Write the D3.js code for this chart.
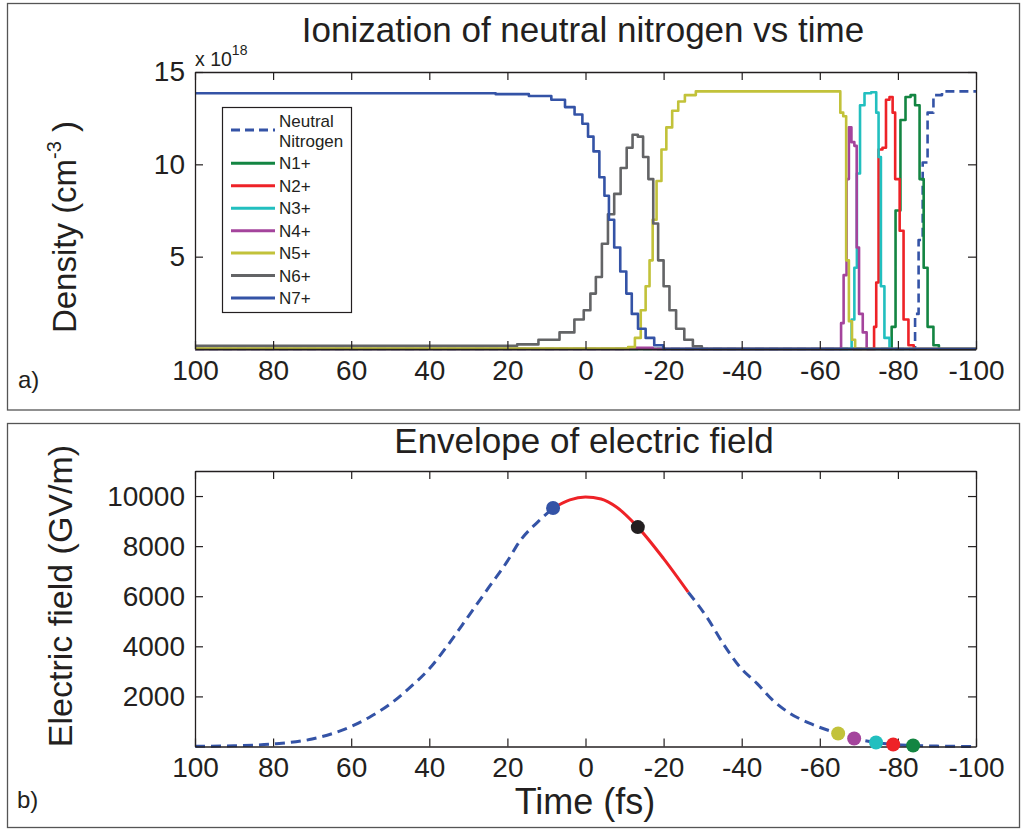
<!DOCTYPE html>
<html><head><meta charset="utf-8">
<script src="https://cdn.jsdelivr.net/npm/d3@7"></script>
<style>
body{margin:0;background:#fff}
svg{display:block}
text{font-family:"Liberation Sans",Arial,Helvetica,sans-serif;fill:#231f20}
</style>
</head><body>
<svg id="c" width="1028" height="830"></svg>
<script>
// ---------------- DATA ----------------
const xTicks = [100, 80, 60, 40, 20, 0, -20, -40, -60, -80, -100];
const densTicks = [5, 10, 15];
const fieldTicks = [2000, 4000, 6000, 8000, 10000];

const seriesNames = ["Neutral Nitrogen", "N1+", "N2+", "N3+", "N4+", "N5+", "N6+", "N7+"];

// density values (x 10^18 cm^-3) as [time fs, density]
const neutral = [[100,0],[-83.9,0],[-84.9,1.9],[-85.7,5.9],[-87,10.1],[-88.2,12.8],[-90,13.75],[-92.6,13.95],[-100,13.95]];
const n1 = [[100,0],[-78,0],[-78.8,1.2],[-80,7.5],[-81.3,12.4],[-82.6,13.65],[-83.9,13.75],[-84.9,13.2],[-86.2,9.2],[-87,4.4],[-88.2,1.2],[-90,0.2],[-91,0],[-100,0]];
const n2 = [[100,0],[-73.6,0],[-74.2,1.2],[-74.7,3.6],[-75.4,10.8],[-76.7,10.9],[-77.2,13.5],[-78.5,13.65],[-78.8,12.8],[-79.8,9.2],[-81.1,6.4],[-81.8,1.6],[-83.6,0.2],[-84.5,0],[-100,0]];
const n3 = [[100,0],[-67.8,0],[-68.5,1.6],[-69.2,4.4],[-69.8,9.5],[-70.8,13.2],[-72.1,13.85],[-74.2,13.9],[-74.7,12.8],[-75.4,10.4],[-75.9,3.4],[-77.2,0.6],[-78.5,0],[-100,0]];
const n4 = [[100,0],[-11,0],[-11.5,0.06],[-17,0.06],[-17.5,0],[-65.2,0],[-65.7,1.4],[-66.5,4],[-67.2,9.2],[-67.7,12.0],[-68.5,11.2],[-69.2,11.0],[-69.7,5.5],[-70.4,1.9],[-71.6,0.9],[-72.4,0],[-100,0]];
const n5 = [[100,0.03],[-10,0.03],[-11.8,0.1],[-13.5,0.6],[-14.8,2.1],[-16,3.4],[-16.8,4.8],[-17.6,7.0],[-18.8,9.1],[-20.1,10.8],[-21.3,12.0],[-23.1,12.9],[-24.4,13.4],[-26.5,13.75],[-30,13.95],[-65.0,13.95],[-65.5,12.8],[-66.5,12.6],[-67.0,4.8],[-67.9,1.5],[-68.6,0.5],[-69.5,0],[-100,0]];
const n6 = [[100,0.18],[20,0.18],[15,0.25],[9.1,0.5],[4.2,0.9],[1.5,1.6],[-0.6,2.1],[-1.9,3.0],[-3.4,3.9],[-5,5.7],[-6.5,7.3],[-8.2,8.4],[-9.8,9.8],[-11.3,10.9],[-12.8,11.6],[-14,11.5],[-15.5,10.4],[-16.7,9.2],[-18,6.8],[-19.2,4.8],[-20.8,3.4],[-22.2,2.1],[-24.2,1.1],[-26.4,0.5],[-28.6,0.15],[-31,0],[-100,0]];
const n7 = [[100,13.85],[28,13.85],[18,13.8],[11,13.7],[6.5,13.5],[4.0,13.1],[1.6,12.7],[0.0,12.2],[-1.3,11.5],[-2.8,10.7],[-4.3,9.3],[-5.4,8.3],[-6.6,7.0],[-8.1,5.5],[-9.7,4.2],[-11.2,3.0],[-12.5,1.9],[-14.4,1.1],[-16.4,0.6],[-18.8,0.2],[-21,0],[-100,0]];

// electric field envelope (GV/m)
const fieldTime  = [100, 90, 80, 70, 60, 55, 50, 45, 40, 35, 30, 25, 20, 16.8, 12, 8.3, 4, 0, -4, -8, -13.4, -20, -26.3, -31.1, -35.2, -39.6, -43.9, -48, -52.4, -57.5, -64.7, -68.8, -74.4, -78.8, -83.9, -90, -100];
const fieldValue = [10, 30, 100, 300, 800, 1200, 1700, 2350, 3100, 4100, 5200, 6300, 7400, 8200, 9000, 9520, 9850, 9960, 9880, 9550, 8760, 7500, 6160, 5160, 4120, 3160, 2520, 1840, 1320, 920, 520, 320, 160, 80, 40, 15, 0];
const solidStart = 8.3, solidEnd = -26.3;

// ionization threshold markers
const markerName  = ["N7+", "N6+", "N5+", "N4+", "N3+", "N2+", "N1+"];
const markerTime  = [8.3, -13.4, -64.7, -68.8, -74.4, -78.8, -83.9];
const markerField = [9520, 8760, 520, 320, 160, 80, 40];

// ---------------- STYLE ----------------
const colors = {"Neutral Nitrogen":"#3453a6","N1+":"#138542","N2+":"#ee2227","N3+":"#22bfbf","N4+":"#a4449c","N5+":"#c2c23a","N6+":"#636466","N7+":"#3453a6"};
const markerColors = {"N7+":"#3453a6","N6+":"#231f20","N5+":"#c2c23a","N4+":"#a4449c","N3+":"#22bfbf","N2+":"#ee2227","N1+":"#138542"};
const ink = "#231f20";

const svg = d3.select("#c");

// panel frames
svg.append("rect").attr("x",7.5).attr("y",3.5).attr("width",1012).attr("height",406.5)
  .attr("fill","none").attr("stroke","#555").attr("stroke-width",1.3);
svg.append("rect").attr("x",7.5).attr("y",423.5).attr("width",1012).attr("height",404)
  .attr("fill","none").attr("stroke","#555").attr("stroke-width",1.3);

const L = 195, R = 976;
const x = d3.scaleLinear().domain([100,-100]).range([L,R]);
const yTop = d3.scaleLinear().domain([0,15]).range([349,72]);
const yBot = d3.scaleLinear().domain([0,11000]).range([746.5,471]);

function box(g, y, ticksY) {
  const T = y.range()[1], B = y.range()[0];
  g.append("g").attr("transform",`translate(0,${B})`)
    .call(d3.axisBottom(x).tickValues(xTicks).tickSizeInner(-8).tickSizeOuter(0).tickPadding(11).tickFormat(d=>String(d)));
  g.append("g").attr("transform",`translate(0,${T})`)
    .call(d3.axisTop(x).tickValues(xTicks).tickSizeInner(-8).tickSizeOuter(0).tickFormat(""));
  g.append("g").attr("transform",`translate(${L},0)`)
    .call(d3.axisLeft(y).tickValues(ticksY).tickSizeInner(-8).tickSizeOuter(0).tickPadding(10).tickFormat(d=>String(d)));
  g.append("g").attr("transform",`translate(${R},0)`)
    .call(d3.axisRight(y).tickValues(ticksY).tickSizeInner(-8).tickSizeOuter(0).tickFormat(""));
  g.selectAll(".domain").attr("stroke",ink).attr("stroke-width",1.3);
  g.selectAll(".tick line").attr("stroke",ink).attr("stroke-width",1.2);
  g.selectAll(".tick text").attr("font-size",28).attr("fill",ink)
    .attr("font-family","'Liberation Sans',Arial,sans-serif");
}

// ---------------- PANEL A ----------------
const gA = svg.append("g");
const lineA = d3.line().x(d=>x(d[0])).y(d=>yTop(d[1])).curve(d3.curveStep);
const seriesData = [neutral, n1, n2, n3, n4, n5, n6, n7];
svg.append("clipPath").attr("id","clipA").append("rect")
  .attr("x",L).attr("y",70).attr("width",R-L).attr("height",281);
seriesData.forEach((s,i)=>{
  const name = seriesNames[i];
  gA.append("path").datum(s).attr("d",lineA).attr("fill","none")
    .attr("clip-path","url(#clipA)")
    .attr("stroke",colors[name]).attr("stroke-width",2.6)
    .attr("stroke-linejoin","round")
    .attr("stroke-dasharray", i===0 ? "9,5" : null);
});
box(gA, yTop, densTicks);

svg.append("text").attr("x",583).attr("y",42).attr("text-anchor","middle")
  .attr("font-size",35).text("Ionization of neutral nitrogen vs time");
const ylA = svg.append("text").attr("transform","translate(76,227) rotate(-90)")
  .attr("text-anchor","middle").attr("font-size",33);
ylA.append("tspan").text("Density (cm");
ylA.append("tspan").attr("dy",-15).attr("font-size",20).text("-3");
ylA.append("tspan").attr("dy",15).text(" )");
const sc = svg.append("text").attr("x",195).attr("y",66).attr("font-size",19.5);
sc.append("tspan").text("x 10");
sc.append("tspan").attr("dy",-11).attr("font-size",14).text("18");
svg.append("text").attr("x",18).attr("y",388).attr("font-size",24).text("a)");

// legend
const lg = svg.append("g");
lg.append("rect").attr("x",222.5).attr("y",107.5).attr("width",129).attr("height",205)
  .attr("fill","#fff").attr("stroke",ink).attr("stroke-width",1.2);
seriesNames.forEach((name,i)=>{
  const cy = i===0 ? 130 : 163.3 + (i-1)*22.45;
  lg.append("line").attr("x1",231).attr("x2",275).attr("y1",cy).attr("y2",cy)
    .attr("stroke",colors[name]).attr("stroke-width",3)
    .attr("stroke-dasharray", i===0 ? "9,5" : null);
  if (i===0) {
    lg.append("text").attr("x",279).attr("y",127).attr("font-size",17).text("Neutral");
    lg.append("text").attr("x",279).attr("y",147).attr("font-size",17).text("Nitrogen");
  } else {
    lg.append("text").attr("x",279).attr("y",cy+6).attr("font-size",17).text(name);
  }
});

// ---------------- PANEL B ----------------
const gB = svg.append("g");
const fieldPts = fieldTime.map((t,i)=>[t, fieldValue[i]]);
const lineB = d3.line().x(d=>x(d[0])).y(d=>yBot(d[1])).curve(d3.curveMonotoneX);
const before = fieldPts.filter(d=>d[0] >= solidStart);
const mid = fieldPts.filter(d=>d[0] <= solidStart && d[0] >= solidEnd);
const after = fieldPts.filter(d=>d[0] <= solidEnd);
gB.append("path").datum(before).attr("d",lineB).attr("fill","none")
  .attr("stroke",colors["N7+"]).attr("stroke-width",3).attr("stroke-dasharray","10,6");
gB.append("path").datum(after).attr("d",lineB).attr("fill","none")
  .attr("stroke",colors["N7+"]).attr("stroke-width",3).attr("stroke-dasharray","10,6");
gB.append("path").datum(mid).attr("d",lineB).attr("fill","none")
  .attr("stroke","#ee2227").attr("stroke-width",3);
box(gB, yBot, fieldTicks);
markerName.forEach((n,i)=>{
  gB.append("circle").attr("cx",x(markerTime[i])).attr("cy",yBot(markerField[i])).attr("r",7)
    .attr("fill",markerColors[n]);
});

svg.append("text").attr("x",584).attr("y",453).attr("text-anchor","middle")
  .attr("font-size",35).text("Envelope of electric field");
svg.append("text").attr("transform","translate(72,596) rotate(-90)")
  .attr("text-anchor","middle").attr("font-size",34).text("Electric field (GV/m)");
svg.append("text").attr("x",585).attr("y",814).attr("text-anchor","middle")
  .attr("font-size",36).text("Time (fs)");
svg.append("text").attr("x",17).attr("y",808).attr("font-size",24).text("b)");
</script>
</body></html>
